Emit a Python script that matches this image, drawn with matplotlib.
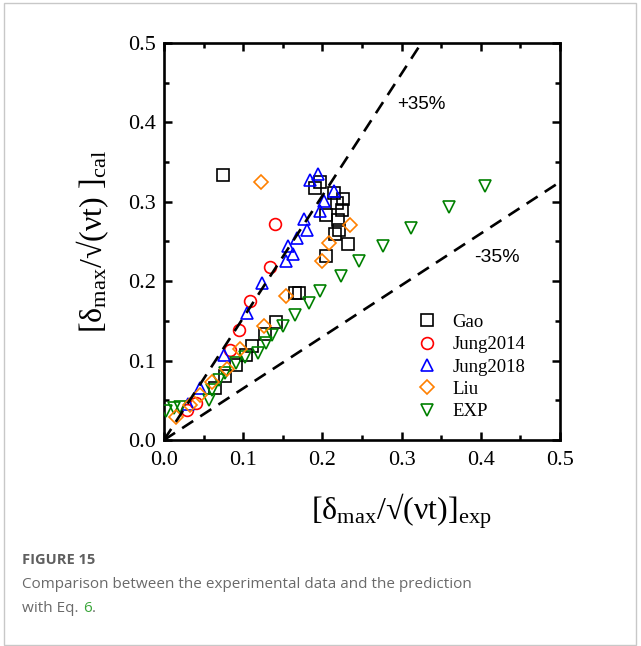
import matplotlib
matplotlib.use("Agg")
import matplotlib.pyplot as plt
from matplotlib.patches import Rectangle
import numpy as np

plt.rcParams['font.family'] = ['Liberation Serif', 'DejaVu Serif']
plt.rcParams['mathtext.fontset'] = 'custom'
plt.rcParams['mathtext.rm'] = 'Liberation Serif'
plt.rcParams['mathtext.it'] = 'Liberation Serif'

# ---- data ----
gao_x = [0.075, 0.197, 0.191, 0.215, 0.226, 0.218, 0.225, 0.205, 0.220, 0.221, 0.216,
         0.232, 0.205, 0.165, 0.170, 0.142, 0.128, 0.111, 0.104, 0.091, 0.077, 0.064]
gao_y = [0.334, 0.325, 0.318, 0.311, 0.303, 0.298, 0.290, 0.283, 0.277, 0.264, 0.259,
         0.247, 0.232, 0.185, 0.185, 0.148, 0.134, 0.118, 0.107, 0.094, 0.081, 0.065]

j14_x = [0.140, 0.134, 0.109, 0.095, 0.083, 0.040, 0.029]
j14_y = [0.272, 0.218, 0.175, 0.139, 0.113, 0.047, 0.038]

j18_x = [0.184, 0.195, 0.215, 0.202, 0.197, 0.177, 0.181, 0.168, 0.156, 0.163, 0.154,
         0.124, 0.105, 0.076, 0.045, 0.030]
j18_y = [0.328, 0.335, 0.314, 0.301, 0.289, 0.278, 0.265, 0.255, 0.244, 0.234, 0.225,
         0.198, 0.160, 0.107, 0.065, 0.045]

liu_x = [0.122, 0.235, 0.208, 0.199, 0.154, 0.126, 0.096, 0.079, 0.060, 0.045, 0.033, 0.015]
liu_y = [0.325, 0.271, 0.248, 0.226, 0.181, 0.144, 0.114, 0.090, 0.073, 0.057, 0.044, 0.029]

exp_x = [0.405, 0.360, 0.312, 0.277, 0.246, 0.223, 0.197, 0.183, 0.165, 0.150, 0.136,
         0.129, 0.119, 0.102, 0.091, 0.077, 0.069, 0.060, 0.057, 0.020, 0.012, 0.003]
exp_y = [0.320, 0.293, 0.267, 0.244, 0.225, 0.206, 0.188, 0.172, 0.157, 0.144, 0.132,
         0.122, 0.110, 0.105, 0.097, 0.084, 0.076, 0.063, 0.050, 0.042, 0.040, 0.036]

band = 0.35
ticks = [0.0, 0.1, 0.2, 0.3, 0.4, 0.5]
tick_labels = ['0.0', '0.1', '0.2', '0.3', '0.4', '0.5']

# ---- figure ----
fig = plt.figure(figsize=(6.41, 6.46), dpi=100)
fig.patches.append(Rectangle((4/641, 1-645/646), 632/641, 642/646, transform=fig.transFigure,
                             fill=False, edgecolor='#c8c8c8', linewidth=1.0))
ax = fig.add_axes([164/641, 1-440/646, 396/641, 397/646])

ms = 8.5
mew = 1.2
h_gao, = ax.plot(gao_x, gao_y, 's', mfc='none', mec='black', ms=ms*0.95, mew=mew, zorder=3, label='Gao')
h_j14, = ax.plot(j14_x, j14_y, 'o', mfc='none', mec='#ff0000', ms=ms, mew=mew, zorder=3, label='Jung2014')
h_j18, = ax.plot(j18_x, j18_y, '^', mfc='none', mec='#0000ff', ms=ms*1.05, mew=mew, zorder=3, label='Jung2018')
h_exp, = ax.plot(exp_x, exp_y, 'v', mfc='none', mec='#008000', ms=ms*1.05, mew=mew, zorder=3, label='EXP')
h_liu, = ax.plot(liu_x, liu_y, 'D', mfc='none', mec='#ff8000', ms=ms*0.85, mew=mew, zorder=4, label='Liu')

xx = np.array([0.0, 0.6])
ax.plot(xx, xx / (1 - band), '--', color='black', lw=1.9, dashes=(5, 3.2), zorder=5)
ax.plot(xx, xx * (1 - band), '--', color='black', lw=1.9, dashes=(5, 3.2), zorder=5)

ax.set_xlim(0, 0.5)
ax.set_ylim(0, 0.5)
ax.set_xticks(ticks)
ax.set_xticklabels(tick_labels)
ax.set_yticks(ticks)
ax.set_yticklabels(tick_labels)
ax.set_xticks(np.arange(0.05, 0.5, 0.1), minor=True)
ax.set_yticks(np.arange(0.05, 0.5, 0.1), minor=True)
ax.tick_params(which='both', direction='in', top=True, right=True, width=1.8, labelsize=16)
ax.tick_params(which='major', length=6)
ax.tick_params(axis='x', which='major', pad=8)
ax.tick_params(axis='y', which='major', pad=6)
ax.tick_params(which='minor', length=3.5)
for s in ax.spines.values():
    s.set_linewidth(1.9)

ax.text(0.294, 0.422, '+35%', fontsize=13.5, family=['Liberation Sans'], va='center', ha='left')
ax.text(0.392, 0.230, '-35%', fontsize=14, family=['Liberation Sans'], va='center', ha='left')

ax.set_xlabel(r'[δ$_{\rm max}$/√(νt)]$_{\rm exp}$', fontsize=23)
ax.xaxis.set_label_coords(0.60, -0.13)
ax.set_ylabel(r'[δ$_{\rm max}$/√(νt) ]$_{\rm cal}$', fontsize=23)
ax.yaxis.set_label_coords(-0.135, 0.5)

leg = ax.legend(handles=[h_gao, h_j14, h_j18, h_liu, h_exp], loc='upper left',
                bbox_to_anchor=(0.64, 0.318), frameon=False, fontsize=13.5,
                handlelength=1.0, handletextpad=0.85, labelspacing=0.28, borderpad=0,
                borderaxespad=0)

fig.text(22/641, 1-560/646, 'FIGURE 15', fontsize=10.5, fontweight='bold', color='#5f5f5f',
         family=['Open Sans'], va='center', ha='left')
fig.text(22/641, 1-585/646, 'Comparison between the experimental data and the prediction',
         fontsize=11, color='#6a6a6a', family=['Open Sans'], va='center', ha='left')
t1 = fig.text(22/641, 1-608/646, 'with Eq.', fontsize=11, color='#6a6a6a',
              family=['Open Sans'], va='center', ha='left')
t2 = fig.text(0, 0, '6', fontsize=11, color='#3aa63a', family=['Open Sans'])
fig.canvas.draw()
r = fig.canvas.get_renderer()
bb = t1.get_window_extent(r)
t2.set_position(((bb.x1 + 4.5) / fig.bbox.width, 1-608/646))
t2.set_va('center')
bb2 = t2.get_window_extent(r)
fig.text((bb2.x1) / fig.bbox.width + 0.0005, 1-608/646, '.', fontsize=11, color='#6a6a6a',
         family=['Open Sans'], va='center', ha='left')

fig.savefig('out.png', dpi=100)
